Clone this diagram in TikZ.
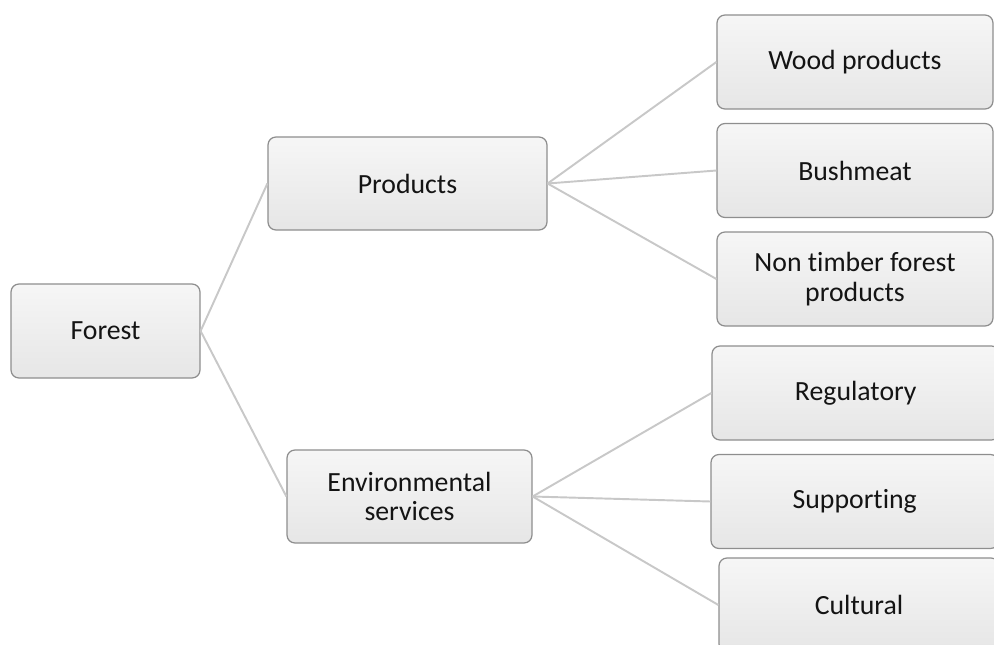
\documentclass[tikz,border=0pt]{standalone}
\usepackage{fontspec}
\setmainfont{Carlito}[Ligatures=NoCommon]
\definecolor{boxline}{HTML}{8E8E8E}
\definecolor{boxtop}{HTML}{F6F6F6}
\definecolor{boxbottom}{HTML}{E6E6E6}
\definecolor{branch}{HTML}{C8C8C8}
\definecolor{boxtext}{HTML}{141414}
\tikzset{
  topic/.style={draw=boxline, line width=0.7pt, rounded corners=0.16cm, top color=boxtop, bottom color=boxbottom, text=boxtext, align=center, font=\fontsize{15.8}{17}\selectfont, inner sep=0pt, minimum height=1.88cm},
  branchline/.style={draw=branch, line width=1.1pt}
}
\begin{document}
\begin{tikzpicture}
\useasboundingbox (0,0) rectangle (19.88,-12.9);
\node[topic, minimum width=3.78cm] (forest) at (2.11,-6.62) {Forest};
\node[topic, minimum width=5.58cm, minimum height=1.86cm] (products) at (8.15,-3.67) {Products};
\node[topic, minimum width=4.9cm, minimum height=1.86cm] (services) at (8.19,-9.93) {Environmental\\services};
\node[topic, minimum width=5.52cm] (wood) at (17.10,-1.24) {Wood products};
\node[topic, minimum width=5.52cm] (bushmeat) at (17.10,-3.41) {Bushmeat};
\node[topic, minimum width=5.52cm] (ntfp) at (17.10,-5.58) {Non timber forest\\products};
\node[topic, minimum width=5.75cm] (regulatory) at (17.115,-7.86) {Regulatory};
\node[topic, minimum width=5.75cm] (supporting) at (17.095,-10.03) {Supporting};
\node[topic, minimum width=5.6cm] (cultural) at (17.18,-12.10) {Cultural};
\draw[branchline] (forest.east)--(products.west);
\draw[branchline] (forest.east)--(services.west);
\draw[branchline] (products.east)--(wood.west);
\draw[branchline] (products.east)--(bushmeat.west);
\draw[branchline] (products.east)--(ntfp.west);
\draw[branchline] (services.east)--(regulatory.west);
\draw[branchline] (services.east)--(supporting.west);
\draw[branchline] (services.east)--(cultural.west);
\end{tikzpicture}
\end{document}
